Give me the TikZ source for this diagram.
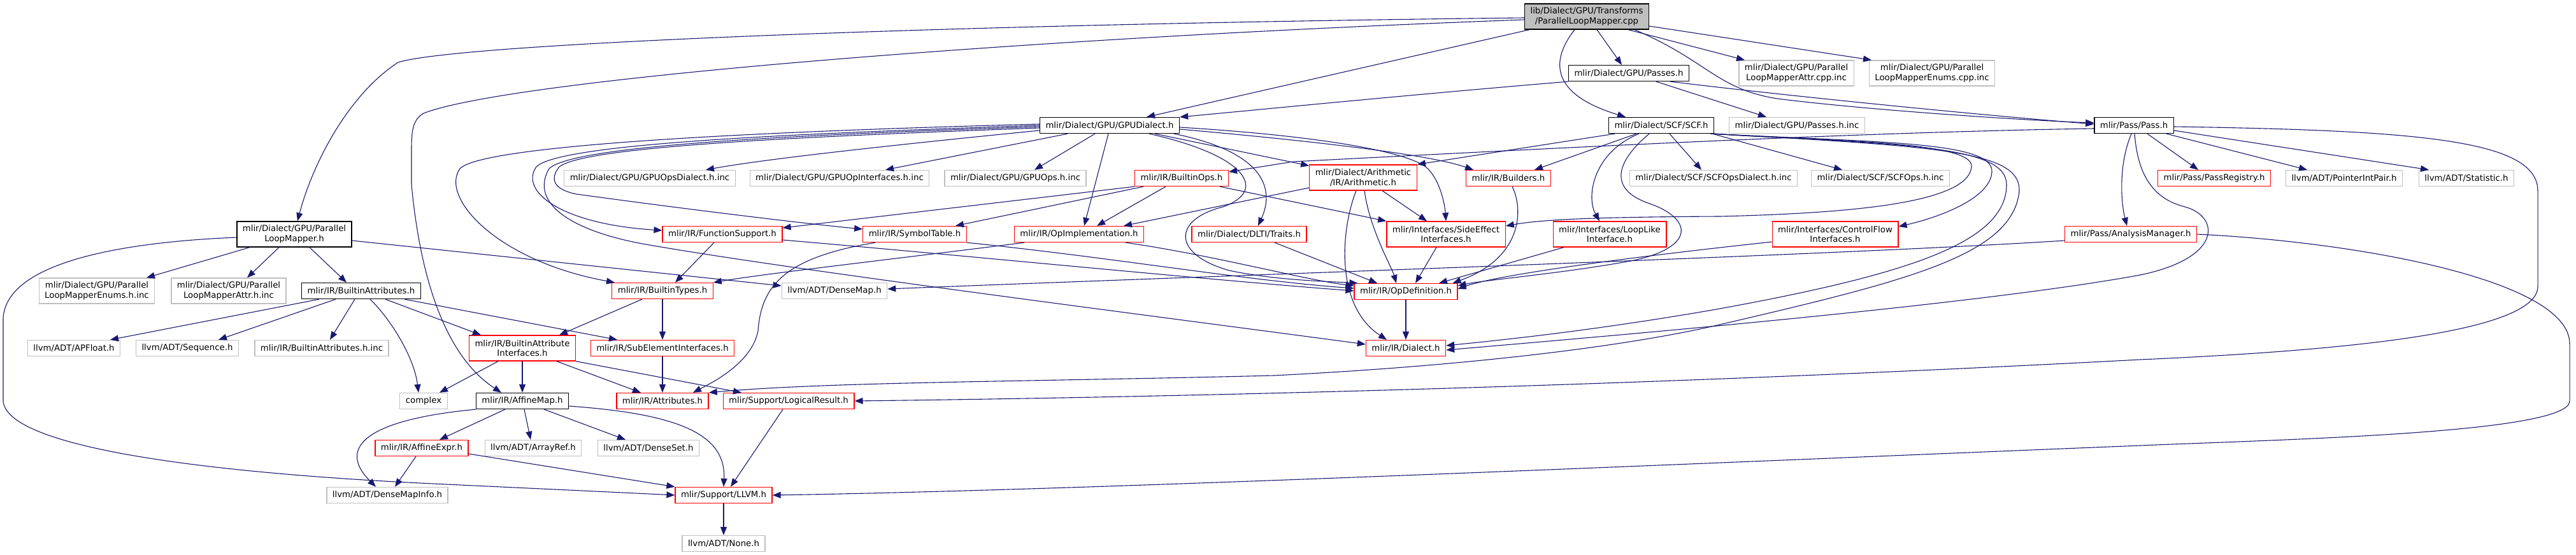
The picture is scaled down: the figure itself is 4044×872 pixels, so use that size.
\documentclass[tikz,border=0pt]{standalone}
\usepackage{fontspec}
\newfontfamily\dvs{DejaVu Sans}
\usetikzlibrary{arrows.meta}
\definecolor{edgec}{HTML}{191970}
\definecolor{ngray}{HTML}{BFBFBF}
\definecolor{nred}{HTML}{FF0000}
\tikzset{
  nd/.style={draw, line width=1.3pt, inner xsep=9pt, inner ysep=2pt, minimum height=25pt,
    font=\dvs\fontsize{13.3pt}{15.6pt}\selectfont, align=center, fill=white},
  blk/.style={nd, draw=black},
  redn/.style={nd, draw=nred},
  gryn/.style={nd, draw=ngray},
  topn/.style={nd, draw=black, fill=ngray},
  two/.style={minimum height=40pt},
  dep/.style={draw=edgec, line width=1.1pt, -{Triangle[length=13pt,width=10pt]}},
}
\begin{document}
\begin{tikzpicture}[x=1pt,y=-1pt]
\useasboundingbox (0,0) rectangle (4044,872);

% ---------------- nodes ----------------
\node[topn, two] (topnode) at (2491,26) {lib/Dialect/GPU/Transforms\\/ParallelLoopMapper.cpp};
\node[blk] (gpupasses) at (2557,115) {mlir/Dialect/GPU/Passes.h};
\node[gryn, two] (attrcpp) at (2820,115) {mlir/Dialect/GPU/Parallel\\LoopMapperAttr.cpp.inc};
\node[gryn, two] (enumscpp) at (3033,115) {mlir/Dialect/GPU/Parallel\\LoopMapperEnums.cpp.inc};
\node[blk] (gpudialect) at (1742,197) {mlir/Dialect/GPU/GPUDialect.h};
\node[blk] (scf) at (2608,197) {mlir/Dialect/SCF/SCF.h};
\node[gryn] (passesinc) at (2821,197) {mlir/Dialect/GPU/Passes.h.inc};
\node[blk] (passh) at (3350,197) {mlir/Pass/Pass.h};
\node[blk, two] (plm) at (462,368) {mlir/Dialect/GPU/Parallel\\LoopMapper.h};
\node[gryn] (opsdialectinc) at (1020,280) {mlir/Dialect/GPU/GPUOpsDialect.h.inc};
\node[gryn] (opinterfacesinc) at (1318,280) {mlir/Dialect/GPU/GPUOpInterfaces.h.inc};
\node[gryn] (opsinc) at (1594,280) {mlir/Dialect/GPU/GPUOps.h.inc};
\node[redn] (builtinops) at (1855,280) {mlir/IR/BuiltinOps.h};
\node[redn, two] (arith) at (2140,279) {mlir/Dialect/Arithmetic\\/IR/Arithmetic.h};
\node[redn] (builders) at (2368,280) {mlir/IR/Builders.h};
\node[gryn] (scfdialectinc) at (2690,280) {mlir/Dialect/SCF/SCFOpsDialect.h.inc};
\node[gryn] (scfopsinc) at (2952,280) {mlir/Dialect/SCF/SCFOps.h.inc};
\node[redn] (passreg) at (3476,280) {mlir/Pass/PassRegistry.h};
\node[gryn] (pip) at (3680,280) {llvm/ADT/PointerIntPair.h};
\node[gryn] (stat) at (3872,280) {llvm/ADT/Statistic.h};
\node[redn] (funcsupport) at (1134,368) {mlir/IR/FunctionSupport.h};
\node[redn] (symtab) at (1436,368) {mlir/IR/SymbolTable.h};
\node[redn] (opimpl) at (1694,368) {mlir/IR/OpImplementation.h};
\node[redn] (dlti) at (1961,368) {mlir/Dialect/DLTI/Traits.h};
\node[redn, two] (sideeffect) at (2270,368) {mlir/Interfaces/SideEffect\\Interfaces.h};
\node[redn, two] (looplike) at (2527,368) {mlir/Interfaces/LoopLike\\Interface.h};
\node[redn, two] (controlflow) at (2881,368) {mlir/Interfaces/ControlFlow\\Interfaces.h};
\node[redn] (analysis) at (3345,368) {mlir/Pass/AnalysisManager.h};
\node[gryn, two] (enumshinc) at (152,457) {mlir/Dialect/GPU/Parallel\\LoopMapperEnums.h.inc};
\node[gryn, two] (attrhinc) at (359,457) {mlir/Dialect/GPU/Parallel\\LoopMapperAttr.h.inc};
\node[blk] (builtinattrs) at (567,457) {mlir/IR/BuiltinAttributes.h};
\node[redn] (builtintypes) at (1040,457) {mlir/IR/BuiltinTypes.h};
\node[gryn] (densemap) at (1310,457) {llvm/ADT/DenseMap.h};
\node[redn] (opdef) at (2207,458) {mlir/IR/OpDefinition.h};
\node[gryn] (apfloat) at (116,547) {llvm/ADT/APFloat.h};
\node[gryn] (sequence) at (294,547) {llvm/ADT/Sequence.h};
\node[gryn] (battrinc) at (505,547) {mlir/IR/BuiltinAttributes.h.inc};
\node[redn, two] (bai) at (820,547) {mlir/IR/BuiltinAttribute\\Interfaces.h};
\node[redn] (subelem) at (1040,547) {mlir/IR/SubElementInterfaces.h};
\node[redn] (dialect) at (2207,547) {mlir/IR/Dialect.h};
\node[gryn] (complexh) at (665,630) {complex};
\node[blk] (affinemap) at (820,630) {mlir/IR/AffineMap.h};
\node[redn] (attributes) at (1040,630) {mlir/IR/Attributes.h};
\node[redn] (logical) at (1238,630) {mlir/Support/LogicalResult.h};
\node[redn] (affineexpr) at (662,704) {mlir/IR/AffineExpr.h};
\node[gryn] (arrayref) at (837,704) {llvm/ADT/ArrayRef.h};
\node[gryn] (denseset) at (1018,704) {llvm/ADT/DenseSet.h};
\node[gryn] (densemapinfo) at (608,778) {llvm/ADT/DenseMapInfo.h};
\node[redn] (llvmh) at (1136,778) {mlir/Support/LLVM.h};
\node[gryn] (nonenode) at (1136,854) {llvm/ADT/None.h};

% ---------------- edges ----------------
% top file
\draw[dep] ([yshift=-2pt]topnode.west) .. controls (1500,38) and (720,68) .. (625,98) .. controls (545,150) and (490,260) .. ([xshift=5pt]plm.north);
\draw[dep] ([yshift=-5pt]topnode.west) .. controls (1600,60) and (800,125) .. (665,178) .. controls (648,188) and (646,205) .. (646,235) -- (646,290) .. controls (660,440) and (700,560) .. ([xshift=-33pt]affinemap.north);
\draw[dep] ([xshift=-90pt]topnode.south) -- ([xshift=58pt]gpudialect.north);
\draw[dep] ([xshift=-19pt]topnode.south) .. controls (2430,100) and (2440,150) .. ([xshift=-56pt]scf.north);
\draw[dep] ([xshift=16pt]topnode.south) -- ([xshift=-11pt]gpupasses.north);
\draw[dep] ([xshift=65pt]topnode.south) -- ([xshift=-81pt]attrcpp.north);
\draw[dep] ([yshift=-15pt]topnode.east) -- ([xshift=-95pt]enumscpp.north);
\draw[dep] ([xshift=75pt]topnode.south) .. controls (2680,95) and (2695,140) .. (2790,155) .. controls (2950,175) and (3200,190) .. ([yshift=4pt]passh.west);

% GPU/Passes.h
\draw[dep] (gpupasses.south west) .. controls (2200,150) and (1950,175) .. (gpudialect.north east);
\draw[dep] ([xshift=43pt]gpupasses.south) -- ([xshift=-48pt]passesinc.north);
\draw[dep] ([xshift=65pt]gpupasses.south) .. controls (2800,150) and (3100,180) .. ([yshift=2pt]passh.west);

% GPUDialect.h
\draw[dep] ([yshift=-8pt]gpudialect.west) .. controls (1400,228) and (1200,250) .. ([xshift=88pt]opsdialectinc.north);
\draw[dep] ([xshift=-66pt]gpudialect.south) -- ([xshift=72pt]opinterfacesinc.north);
\draw[dep] ([xshift=-23pt]gpudialect.south) -- ([xshift=30pt]opsinc.north);
\draw[dep] ([xshift=-2pt]gpudialect.south) -- ([xshift=8pt]opimpl.north);
\draw[dep] ([yshift=2pt]gpudialect.west) .. controls (1250,205) and (760,225) .. (722,265) .. controls (690,310) and (780,410) .. ([xshift=-75pt]builtintypes.north);
\draw[dep] (gpudialect.west) .. controls (1250,210) and (880,225) .. (842,262) .. controls (815,300) and (880,352) .. ([yshift=6pt]funcsupport.west);
\draw[dep] ([yshift=-2pt]gpudialect.west) .. controls (1250,212) and (900,228) .. (862,265) .. controls (830,320) and (900,365) .. (1020,385) .. controls (1250,425) and (1800,495) .. ([yshift=6pt]dialect.west);
\draw[dep] ([yshift=-4pt]gpudialect.west) .. controls (1250,215) and (920,230) .. (878,262) .. controls (862,282) and (870,298) .. (905,305) .. controls (1050,325) and (1250,350) .. ([yshift=8pt]symtab.west);
\draw[dep] ([xshift=71pt]gpudialect.south) -- ([yshift=-2pt]arith.north west);
\draw[dep] ([yshift=-6pt]gpudialect.east) .. controls (2100,225) and (2250,245) .. ([xshift=-55pt]builders.north);
\draw[dep] ([yshift=-3pt]gpudialect.east) .. controls (2050,212) and (2200,235) .. (2238,262) .. controls (2260,280) and (2268,320) .. (sideeffect.north);
\draw[dep] ([xshift=101pt]gpudialect.south) .. controls (1990,240) and (2000,300) .. ([xshift=14pt]dlti.north);
\draw[dep] ([xshift=62pt]gpudialect.south) .. controls (1960,245) and (1990,300) .. (1920,325) .. controls (1840,345) and (1840,400) .. (1930,425) .. controls (2000,440) and (2080,442) .. ([xshift=6pt]opdef.north west);

% SCF.h
\draw[dep] ([xshift=-73pt]scf.south) -- (arith.north east);
\draw[dep] ([xshift=-39pt]scf.south) -- ([xshift=41pt]builders.north);
\draw[dep] ([xshift=-35pt]scf.south) .. controls (2500,240) and (2490,310) .. ([xshift=-16pt]looplike.north);
\draw[dep] ([xshift=13pt]scf.south) -- ([xshift=-19pt]scfdialectinc.north);
\draw[dep] ([xshift=-3pt]scf.south east) -- ([xshift=-60pt]scfopsinc.north);
\draw[dep] ([xshift=-19pt]scf.south) .. controls (2530,260) and (2530,300) .. (2590,320) .. controls (2660,345) and (2660,390) .. (2560,410) .. controls (2450,430) and (2330,440) .. ([yshift=9pt]opdef.east);
\draw[dep] (scf.south east) .. controls (2850,222) and (3100,220) .. (3095,262) .. controls (3090,320) and (2900,335) .. (2700,340) .. controls (2500,341) and (2420,345) .. ([yshift=13pt]sideeffect.east);
\draw[dep] ([xshift=-2pt]scf.south east) .. controls (2950,224) and (3130,222) .. (3127,270) .. controls (3125,310) and (3050,340) .. ([yshift=12pt]controlflow.east);
\draw[dep] ([xshift=-4pt]scf.south east) .. controls (3000,227) and (3150,230) .. (3150,290) .. controls (3150,380) and (3000,430) .. (2700,485) .. controls (2500,520) and (2350,535) .. ([yshift=4pt]dialect.east);
\draw[dep] ([xshift=-6pt]scf.south east) .. controls (3050,230) and (3172,238) .. (3170,300) .. controls (3160,400) and (3000,440) .. (2700,510) .. controls (2550,545) and (2300,575) .. (2000,590) .. controls (1600,600) and (1300,600) .. (attributes.north east);

% Pass.h
\draw[dep] ([yshift=-5pt]passh.west) .. controls (2900,208) and (2400,235) .. (2030,254) -- ([yshift=10pt]builtinops.east);
\draw[dep] ([xshift=1pt]passh.south) .. controls (3355,260) and (3370,310) .. (3430,325) .. controls (3485,340) and (3490,405) .. (3360,432) .. controls (3100,480) and (2500,530) .. ([yshift=-3pt]dialect.east);
\draw[dep] ([xshift=-4pt]passh.south) .. controls (3325,260) and (3330,320) .. ([xshift=-6pt]analysis.north);
\draw[dep] ([xshift=21pt]passh.south) -- ([xshift=-25pt]passreg.north);
\draw[dep] ([xshift=51pt]passh.south) -- ([xshift=-58pt]pip.north);
\draw[dep] ([yshift=-8pt]passh.east) -- ([xshift=-59pt]stat.north);
\draw[dep] ([yshift=-2pt]passh.east) .. controls (3800,205) and (3984,220) .. (3984,300) -- (3984,450) .. controls (3984,520) and (3700,550) .. (3360,565) .. controls (2700,600) and (2000,622) .. (logical.east);

% AnalysisManager.h
\draw[dep] (analysis.east) .. controls (3700,380) and (4034,440) .. (4034,540) -- (4034,630) .. controls (4034,680) and (3600,690) .. (3360,700) .. controls (2500,735) and (1700,770) .. (llvmh.east);
\draw[dep] ([yshift=-10pt]analysis.west) .. controls (2900,400) and (2000,430) .. ([yshift=3pt]densemap.east);

% interfaces -> OpDefinition
\draw[dep] ([yshift=-12pt]controlflow.west) .. controls (2550,405) and (2350,432) .. ([yshift=4pt]opdef.east);
\draw[dep] ([xshift=-72pt]looplike.south) -- ([xshift=52pt]opdef.north);
\draw[dep] ([xshift=-15pt]sideeffect.south) -- ([xshift=15pt]opdef.north);
\draw[dep] ([xshift=6pt]builders.south) .. controls (2392,330) and (2390,405) .. ([xshift=-8pt]opdef.north east);
\draw[dep] ([xshift=40pt]dlti.south) -- ([xshift=-45pt]opdef.north);

% Arithmetic.h
\draw[dep] ([xshift=-11pt]arith.south) .. controls (2105,360) and (2095,480) .. ([xshift=-30pt]dialect.north);
\draw[dep] ([xshift=2pt]arith.south) .. controls (2150,360) and (2185,420) .. ([xshift=-15pt]opdef.north);
\draw[dep] ([xshift=30pt]arith.south) -- ([xshift=-30pt]sideeffect.north);
\draw[dep] ([yshift=-16pt]arith.west) -- ([xshift=70pt]opimpl.north);

% BuiltinOps.h
\draw[dep] (builtinops.south west) -- ([yshift=10pt]funcsupport.east);
\draw[dep] ([xshift=-60pt]builtinops.south) -- ([xshift=64pt]symtab.north);
\draw[dep] ([xshift=-25pt]builtinops.south) -- ([xshift=28pt]opimpl.north);
\draw[dep] ([xshift=60pt]builtinops.south) -- (sideeffect.north west);

% FunctionSupport.h, SymbolTable.h, OpImplementation.h
\draw[dep] ([xshift=-13pt]funcsupport.south) -- ([xshift=20pt]builtintypes.north);
\draw[dep] ([yshift=-9pt]funcsupport.east) .. controls (1500,400) and (1900,440) .. ([yshift=1pt]opdef.west);
\draw[dep] ([xshift=-62pt]symtab.south) .. controls (1230,405) and (1195,450) .. (1190,520) .. controls (1180,570) and (1120,600) .. ([xshift=48pt]attributes.north);
\draw[dep] (symtab.south east) .. controls (1750,405) and (1950,440) .. ([yshift=5pt]opdef.west);
\draw[dep] ([xshift=-86pt]opimpl.south) .. controls (1420,405) and (1200,430) .. (builtintypes.north east);
\draw[dep] ([xshift=73pt]opimpl.south) .. controls (1900,400) and (2050,440) .. ([yshift=9pt]opdef.west);

% OpDefinition.h
\draw[dep] (opdef.south) -- (dialect.north);

% ParallelLoopMapper.h
\draw[dep] ([xshift=-70pt]plm.south) -- ([xshift=78pt]enumshinc.north);
\draw[dep] ([xshift=-24pt]plm.south) -- ([xshift=29pt]attrhinc.north);
\draw[dep] ([xshift=24pt]plm.south) -- ([xshift=-23pt]builtinattrs.north);
\draw[dep] ([yshift=-10pt]plm.east) -- ([yshift=8pt]densemap.west);
\draw[dep] ([yshift=-5pt]plm.west) .. controls (200,380) and (10,410) .. (5,500) -- (5,630) .. controls (10,700) and (300,742) .. (680,760) .. controls (850,768) and (1000,775) .. (llvmh.west);

% BuiltinAttributes.h
\draw[dep] ([xshift=-66pt]builtinattrs.south) -- ([xshift=57pt]apfloat.north);
\draw[dep] ([xshift=-40pt]builtinattrs.south) -- ([xshift=49pt]sequence.north);
\draw[dep] ([xshift=-10pt]builtinattrs.south) -- ([xshift=13pt]battrinc.north);
\draw[dep] ([xshift=14pt]builtinattrs.south) .. controls (612,500) and (650,560) .. ([xshift=-8pt]complexh.north);
\draw[dep] ([xshift=38pt]builtinattrs.south) -- ([xshift=-65pt]bai.north);
\draw[dep] ([xshift=68pt]builtinattrs.south) -- ([xshift=-71pt]subelem.north);

% BuiltinTypes.h
\draw[dep] ([xshift=-32pt]builtintypes.south) -- ([xshift=58pt]bai.north);
\draw[dep] (builtintypes.south) -- (subelem.north);

% BuiltinAttributeInterfaces.h
\draw[dep] ([xshift=-38pt]bai.south) -- ([xshift=25pt]complexh.north);
\draw[dep] (bai.south) -- (affinemap.north);
\draw[dep] ([xshift=54pt]bai.south) -- ([xshift=-34pt]attributes.north);
\draw[dep] (bai.south east) -- ([xshift=-74pt]logical.north);

% SubElementInterfaces.h
\draw[dep] (subelem.south) -- (attributes.north);

% AffineMap.h
\draw[dep] ([xshift=-27pt]affinemap.south) -- ([xshift=28pt]affineexpr.north);
\draw[dep] ([xshift=3pt]affinemap.south) -- ([xshift=-4pt]arrayref.north);
\draw[dep] ([xshift=34pt]affinemap.south) -- ([xshift=-36pt]denseset.north);
\draw[dep] ([yshift=-8pt]affinemap.east) .. controls (1060,650) and (1140,680) .. (llvmh.north);
\draw[dep] (affinemap.south west) .. controls (570,660) and (530,705) .. ([xshift=-18pt]densemapinfo.north);

% AffineExpr.h
\draw[dep] ([xshift=-9pt]affineexpr.south) -- ([xshift=12pt]densemapinfo.north);
\draw[dep] ([yshift=-9pt]affineexpr.east) -- (llvmh.north west);

% LogicalResult.h, LLVM.h
\draw[dep] ([xshift=-9pt]logical.south) -- ([xshift=11pt]llvmh.north);
\draw[dep] (llvmh.south) -- (nonenode.north);
\end{tikzpicture}
\end{document}
